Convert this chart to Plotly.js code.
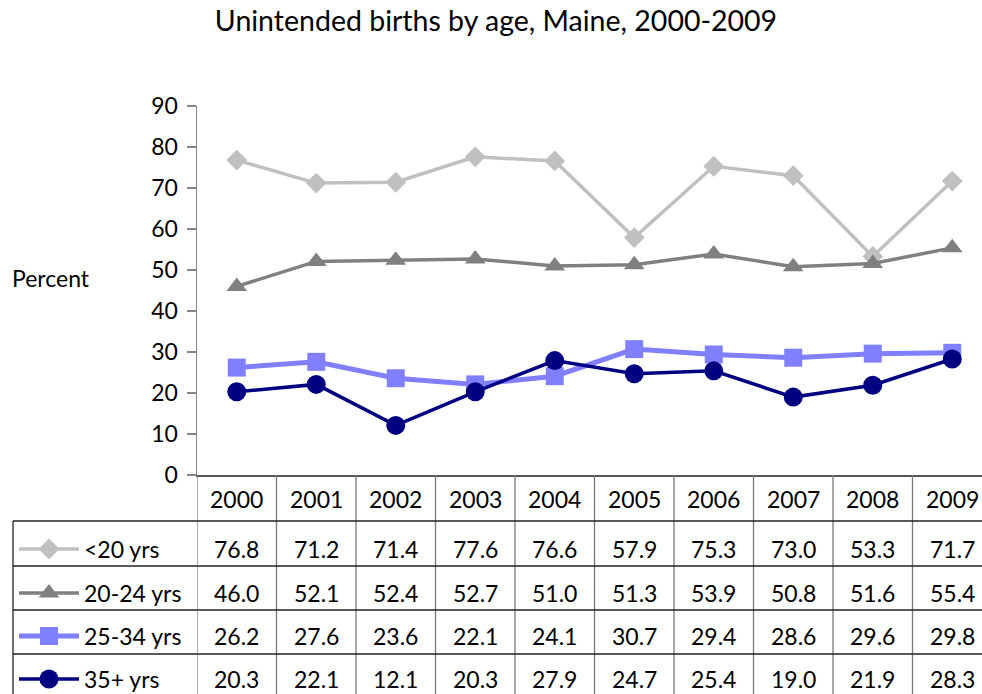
<!DOCTYPE html>
<html>
<head>
<meta charset="utf-8">
<script src="https://cdn.plot.ly/plotly-3.0.1.min.js"></script>
<style>
html, body { margin: 0; padding: 0; overflow: hidden; background: #fff; }
#chart { width: 992px; height: 694px; }
</style>
</head>
<body>
<div id="chart"></div>
<script>
// ---- data ----
const years = [2000, 2001, 2002, 2003, 2004, 2005, 2006, 2007, 2008, 2009];
const seriesNames = ["<20 yrs", "20-24 yrs", "25-34 yrs", "35+ yrs"];
const under20 = [76.8, 71.2, 71.4, 77.6, 76.6, 57.9, 75.3, 73.0, 53.3, 71.7];
const age20to24 = [46.0, 52.1, 52.4, 52.7, 51.0, 51.3, 53.9, 50.8, 51.6, 55.4];
const age25to34 = [26.2, 27.6, 23.6, 22.1, 24.1, 30.7, 29.4, 28.6, 29.6, 29.8];
const age35plus = [20.3, 22.1, 12.1, 20.3, 27.9, 24.7, 25.4, 19.0, 21.9, 28.3];
const seriesValues = [under20, age20to24, age25to34, age35plus];
const yTicks = [0, 10, 20, 30, 40, 50, 60, 70, 80, 90];

// ---- styles ----
const FONT = "Lato, 'Open Sans', sans-serif";
const FS = 23;
const W = 992, H = 694;
const styles = [
  {color: "#C0C0C0", symbol: "diamond", size: 16, width: 3.5},
  {color: "#808080", symbol: "triangle-up", size: 18, width: 3.5},
  {color: "#8080FF", symbol: "square", size: 18, width: 5},
  {color: "#000080", symbol: "circle", size: 19, width: 3.5}
];
const plotLeft = 197, plotTop = 106, plotBottom = 475;
const rowLines = [521, 566, 610, 654];
const rowCenters = [549, 593, 636, 679];
const headerY = 499;

const traces = [];
seriesValues.forEach((vals, i) => {
  const st = styles[i];
  traces.push({
    type: "scatter", mode: "lines+markers", name: seriesNames[i],
    x: years, y: vals, xaxis: "x", yaxis: "y",
    line: {color: st.color, width: st.width},
    marker: {color: st.color, symbol: st.symbol, size: st.size, line: {width: 0}},
    cliponaxis: false, showlegend: false, hoverinfo: "skip"
  });
});
// legend keys inside table (pixel subplot)
seriesNames.forEach((nm, i) => {
  const st = styles[i];
  const yy = rowCenters[i];
  traces.push({
    type: "scatter", mode: "lines",
    x: [19, 79], y: [yy, yy], xaxis: "x2", yaxis: "y2",
    line: {color: st.color, width: st.width},
    cliponaxis: false, showlegend: false, hoverinfo: "skip"
  });
  traces.push({
    type: "scatter", mode: "markers",
    x: [49], y: [yy], xaxis: "x2", yaxis: "y2",
    marker: {color: st.color, symbol: st.symbol, size: st.size, opacity: 1, line: {width: 0}},
    cliponaxis: false, showlegend: false, hoverinfo: "skip"
  });
});

const shapes = [];
// vertical column lines
for (let k = 0; k <= years.length; k++) {
  shapes.push({type: "line", xref: "x", yref: "y2",
    x0: years[0] - 0.5 + k, x1: years[0] - 0.5 + k, y0: plotBottom, y1: H,
    line: {color: "#7a7a7a", width: 1.3}});
}
// horizontal row lines
rowLines.forEach(y => {
  shapes.push({type: "line", xref: "x2", yref: "y2", x0: 13, x1: W, y0: y, y1: y,
    line: {color: "#222", width: 1.3}});
});
// left border of table
shapes.push({type: "line", xref: "x2", yref: "y2", x0: 13, x1: 13, y0: rowLines[0], y1: H,
  line: {color: "#222", width: 1.3}});

const annotations = [];
years.forEach((yr, j) => {
  annotations.push({xref: "x", yref: "y2", x: yr, y: headerY, text: String(yr),
    showarrow: false, font: {family: FONT, size: FS, color: "#000"}});
  seriesValues.forEach((vals, i) => {
    annotations.push({xref: "x", yref: "y2", x: yr, y: rowCenters[i], text: vals[j].toFixed(1),
      showarrow: false, font: {family: FONT, size: FS, color: "#000"}});
  });
});
seriesNames.forEach((nm, i) => {
  annotations.push({xref: "x2", yref: "y2", x: 82, y: rowCenters[i], text: nm,
    xanchor: "left", showarrow: false, font: {family: FONT, size: FS, color: "#000"}});
});
annotations.push({xref: "x2", yref: "y2", x: 10, y: 278, text: "Percent",
  xanchor: "left", showarrow: false, font: {family: FONT, size: FS, color: "#000"}});

const layout = {
  width: W, height: H,
  margin: {l: 0, r: 0, t: 0, b: 0},
  paper_bgcolor: "#fff", plot_bgcolor: "rgba(0,0,0,0)",
  showlegend: false,
  title: {text: "Unintended births by age, Maine, 2000-2009", x: 0.5, xref: "paper",
    y: 1 - 21 / H, yref: "paper", yanchor: "middle",
    font: {family: FONT, size: 28.5, color: "#000"}},
  xaxis: {domain: [plotLeft / W, 1], range: [years[0] - 0.5, years[years.length - 1] + 0.5],
    showticklabels: false, ticks: "", showgrid: false, zeroline: false,
    showline: true, linecolor: "#555", linewidth: 1.5, anchor: "y", fixedrange: true},
  yaxis: {domain: [(H - plotBottom) / H, (H - plotTop) / H], range: [0, 90],
    tickvals: yTicks, ticktext: yTicks.map(String),
    ticks: "outside", ticklen: 9, tickcolor: "#868686", tickwidth: 1.3,
    ticklabelstandoff: 4,
    showline: true, linecolor: "#868686", linewidth: 1.5, showgrid: false, zeroline: false,
    tickfont: {family: FONT, size: FS, color: "#000"}, anchor: "x", fixedrange: true},
  xaxis2: {domain: [0, 1], range: [0, W], visible: false, anchor: "y2", fixedrange: true},
  yaxis2: {domain: [0, 1], range: [H, 0], visible: false, anchor: "x2", fixedrange: true},
  shapes: shapes,
  annotations: annotations
};

Plotly.newPlot("chart", traces, layout, {displayModeBar: false, staticPlot: true});
</script>
</body>
</html>
